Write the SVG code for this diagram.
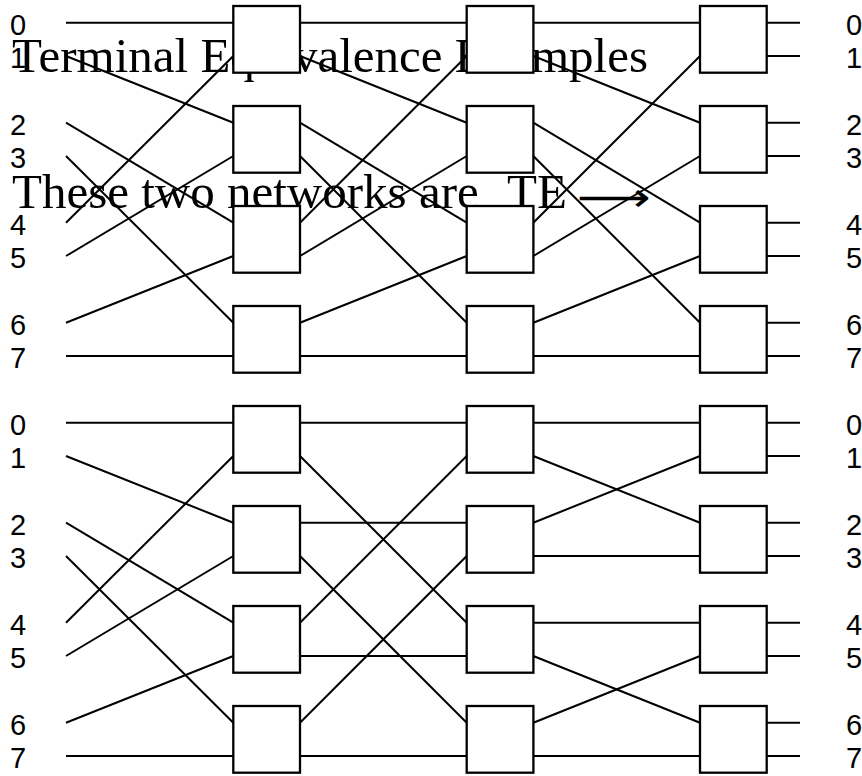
<svg xmlns="http://www.w3.org/2000/svg" width="862" height="776" viewBox="0 0 862 776">
<style>
.title{font-family:"Liberation Serif","DejaVu Serif",serif;font-size:49px;fill:#000}
.arrow{font-family:"DejaVu Sans",sans-serif;font-size:40px;fill:#000}
.lbl{font-family:"Liberation Sans",Arial,sans-serif;font-size:29px;fill:#000}
.box{fill:#fff;stroke:#000;stroke-width:2.3}
#connectors line{stroke:#000;stroke-width:2;fill:none}
</style>
<rect x="0" y="0" width="862" height="776" fill="#fff"/>
<g id="texts">
<text class="title" x="12" y="72">Terminal Equivalence Examples</text>
<text class="title" x="12" y="208">These two networks are <tspan x="507">TE</tspan><tspan class="arrow" x="577" y="211" textLength="74" lengthAdjust="spacingAndGlyphs">⟶</tspan></text>
</g>
<g id="connectors">
<!-- top network: inputs to stage 1 -->
<line x1="66" y1="22.7" x2="233.3" y2="22.7"/>
<line x1="66" y1="56" x2="233.3" y2="122.7"/>
<line x1="66" y1="122.7" x2="233.3" y2="222.7"/>
<line x1="66" y1="156" x2="233.3" y2="322.7"/>
<line x1="66" y1="222.7" x2="233.3" y2="56"/>
<line x1="66" y1="256" x2="233.3" y2="156"/>
<line x1="66" y1="322.7" x2="233.3" y2="256"/>
<line x1="66" y1="356" x2="233.3" y2="356"/>
<!-- top: stage 1 to stage 2 -->
<line x1="300" y1="22.7" x2="466.7" y2="22.7"/>
<line x1="300" y1="56" x2="466.7" y2="122.7"/>
<line x1="300" y1="122.7" x2="466.7" y2="222.7"/>
<line x1="300" y1="156" x2="466.7" y2="322.7"/>
<line x1="300" y1="222.7" x2="466.7" y2="56"/>
<line x1="300" y1="256" x2="466.7" y2="156"/>
<line x1="300" y1="322.7" x2="466.7" y2="256"/>
<line x1="300" y1="356" x2="466.7" y2="356"/>
<!-- top: stage 2 to stage 3 -->
<line x1="533.3" y1="22.7" x2="700" y2="22.7"/>
<line x1="533.3" y1="56" x2="700" y2="122.7"/>
<line x1="533.3" y1="122.7" x2="700" y2="222.7"/>
<line x1="533.3" y1="156" x2="700" y2="322.7"/>
<line x1="533.3" y1="222.7" x2="700" y2="56"/>
<line x1="533.3" y1="256" x2="700" y2="156"/>
<line x1="533.3" y1="322.7" x2="700" y2="256"/>
<line x1="533.3" y1="356" x2="700" y2="356"/>
<!-- top: outputs -->
<line x1="766.7" y1="22.7" x2="800" y2="22.7"/>
<line x1="766.7" y1="56" x2="800" y2="56"/>
<line x1="766.7" y1="122.7" x2="800" y2="122.7"/>
<line x1="766.7" y1="156" x2="800" y2="156"/>
<line x1="766.7" y1="222.7" x2="800" y2="222.7"/>
<line x1="766.7" y1="256" x2="800" y2="256"/>
<line x1="766.7" y1="322.7" x2="800" y2="322.7"/>
<line x1="766.7" y1="356" x2="800" y2="356"/>
<!-- bottom network: inputs to stage 1 -->
<line x1="66" y1="422.7" x2="233.3" y2="422.7"/>
<line x1="66" y1="456" x2="233.3" y2="522.7"/>
<line x1="66" y1="522.7" x2="233.3" y2="622.7"/>
<line x1="66" y1="556" x2="233.3" y2="722.7"/>
<line x1="66" y1="622.7" x2="233.3" y2="456"/>
<line x1="66" y1="656" x2="233.3" y2="556"/>
<line x1="66" y1="722.7" x2="233.3" y2="656"/>
<line x1="66" y1="756" x2="233.3" y2="756"/>
<!-- bottom: stage 1 to stage 2 -->
<line x1="300" y1="422.7" x2="466.7" y2="422.7"/>
<line x1="300" y1="456" x2="466.7" y2="622.7"/>
<line x1="300" y1="522.7" x2="466.7" y2="522.7"/>
<line x1="300" y1="556" x2="466.7" y2="722.7"/>
<line x1="300" y1="622.7" x2="466.7" y2="456"/>
<line x1="300" y1="656" x2="466.7" y2="656"/>
<line x1="300" y1="722.7" x2="466.7" y2="556"/>
<line x1="300" y1="756" x2="466.7" y2="756"/>
<!-- bottom: stage 2 to stage 3 -->
<line x1="533.3" y1="422.7" x2="700" y2="422.7"/>
<line x1="533.3" y1="456" x2="700" y2="522.7"/>
<line x1="533.3" y1="522.7" x2="700" y2="456"/>
<line x1="533.3" y1="556" x2="700" y2="556"/>
<line x1="533.3" y1="622.7" x2="700" y2="622.7"/>
<line x1="533.3" y1="656" x2="700" y2="722.7"/>
<line x1="533.3" y1="722.7" x2="700" y2="656"/>
<line x1="533.3" y1="756" x2="700" y2="756"/>
<!-- bottom: outputs -->
<line x1="766.7" y1="422.7" x2="800" y2="422.7"/>
<line x1="766.7" y1="456" x2="800" y2="456"/>
<line x1="766.7" y1="522.7" x2="800" y2="522.7"/>
<line x1="766.7" y1="556" x2="800" y2="556"/>
<line x1="766.7" y1="622.7" x2="800" y2="622.7"/>
<line x1="766.7" y1="656" x2="800" y2="656"/>
<line x1="766.7" y1="722.7" x2="800" y2="722.7"/>
<line x1="766.7" y1="756" x2="800" y2="756"/>
</g>
<!-- top network switches -->
<g id="top-s1-b0"><rect class="box" x="233.3" y="6" width="66.7" height="66.7"/></g>
<g id="top-s1-b1"><rect class="box" x="233.3" y="106" width="66.7" height="66.7"/></g>
<g id="top-s1-b2"><rect class="box" x="233.3" y="206" width="66.7" height="66.7"/></g>
<g id="top-s1-b3"><rect class="box" x="233.3" y="306" width="66.7" height="66.7"/></g>
<g id="top-s2-b0"><rect class="box" x="466.7" y="6" width="66.7" height="66.7"/></g>
<g id="top-s2-b1"><rect class="box" x="466.7" y="106" width="66.7" height="66.7"/></g>
<g id="top-s2-b2"><rect class="box" x="466.7" y="206" width="66.7" height="66.7"/></g>
<g id="top-s2-b3"><rect class="box" x="466.7" y="306" width="66.7" height="66.7"/></g>
<g id="top-s3-b0"><rect class="box" x="700" y="6" width="66.7" height="66.7"/></g>
<g id="top-s3-b1"><rect class="box" x="700" y="106" width="66.7" height="66.7"/></g>
<g id="top-s3-b2"><rect class="box" x="700" y="206" width="66.7" height="66.7"/></g>
<g id="top-s3-b3"><rect class="box" x="700" y="306" width="66.7" height="66.7"/></g>
<!-- bottom network switches -->
<g id="bot-s1-b0"><rect class="box" x="233.3" y="406" width="66.7" height="66.7"/></g>
<g id="bot-s1-b1"><rect class="box" x="233.3" y="506" width="66.7" height="66.7"/></g>
<g id="bot-s1-b2"><rect class="box" x="233.3" y="606" width="66.7" height="66.7"/></g>
<g id="bot-s1-b3"><rect class="box" x="233.3" y="706" width="66.7" height="66.7"/></g>
<g id="bot-s2-b0"><rect class="box" x="466.7" y="406" width="66.7" height="66.7"/></g>
<g id="bot-s2-b1"><rect class="box" x="466.7" y="506" width="66.7" height="66.7"/></g>
<g id="bot-s2-b2"><rect class="box" x="466.7" y="606" width="66.7" height="66.7"/></g>
<g id="bot-s2-b3"><rect class="box" x="466.7" y="706" width="66.7" height="66.7"/></g>
<g id="bot-s3-b0"><rect class="box" x="700" y="406" width="66.7" height="66.7"/></g>
<g id="bot-s3-b1"><rect class="box" x="700" y="506" width="66.7" height="66.7"/></g>
<g id="bot-s3-b2"><rect class="box" x="700" y="606" width="66.7" height="66.7"/></g>
<g id="bot-s3-b3"><rect class="box" x="700" y="706" width="66.7" height="66.7"/></g>
<!-- port labels -->
<g id="top-inputs" class="lbl">
<text x="10" y="35">0</text><text x="10" y="68.3">1</text>
<text x="10" y="135">2</text><text x="10" y="168.3">3</text>
<text x="10" y="235">4</text><text x="10" y="268.3">5</text>
<text x="10" y="335">6</text><text x="10" y="368.3">7</text>
</g>
<g id="top-outputs" class="lbl">
<text x="846" y="35">0</text><text x="846" y="68.3">1</text>
<text x="846" y="135">2</text><text x="846" y="168.3">3</text>
<text x="846" y="235">4</text><text x="846" y="268.3">5</text>
<text x="846" y="335">6</text><text x="846" y="368.3">7</text>
</g>
<g id="bot-inputs" class="lbl">
<text x="10" y="435">0</text><text x="10" y="468.3">1</text>
<text x="10" y="535">2</text><text x="10" y="568.3">3</text>
<text x="10" y="635">4</text><text x="10" y="668.3">5</text>
<text x="10" y="735">6</text><text x="10" y="768.3">7</text>
</g>
<g id="bot-outputs" class="lbl">
<text x="846" y="435">0</text><text x="846" y="468.3">1</text>
<text x="846" y="535">2</text><text x="846" y="568.3">3</text>
<text x="846" y="635">4</text><text x="846" y="668.3">5</text>
<text x="846" y="735">6</text><text x="846" y="768.3">7</text>
</g>
</svg>
